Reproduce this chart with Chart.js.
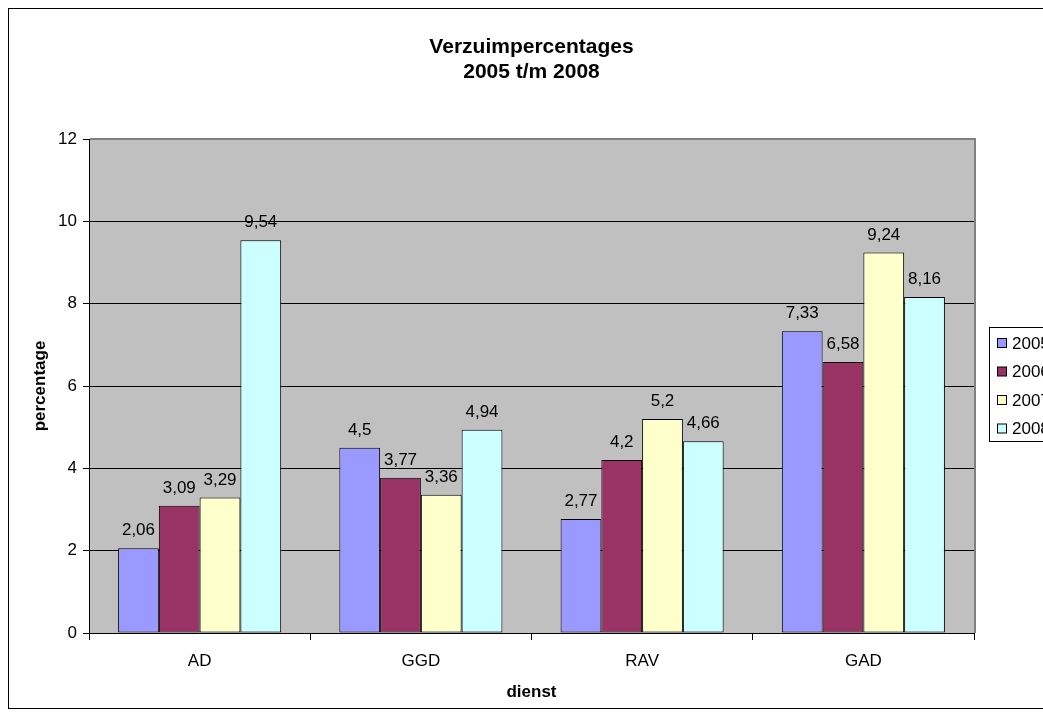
<!DOCTYPE html>
<html>
<head>
<meta charset="utf-8">
<script src="https://cdn.jsdelivr.net/npm/chart.js@4.4.0/dist/chart.umd.min.js"></script>
<style>
  html, body { margin: 0; padding: 0; background: #fff; }
  #wrap { width: 1043px; height: 715px; }
</style>
</head>
<body>
<div id="wrap"><canvas id="chart" width="1043" height="715"></canvas></div>
<script>
var categories = ['AD', 'GGD', 'RAV', 'GAD'];
var years = ['2005', '2006', '2007', '2008'];
var values2005 = [2.06, 4.5, 2.77, 7.33];
var values2006 = [3.09, 3.77, 4.2, 6.58];
var values2007 = [3.29, 3.36, 5.2, 9.24];
var values2008 = [9.54, 4.94, 4.66, 8.16];
var yTicks = [0, 2, 4, 6, 8, 10, 12];
var colors = ['#9999FF', '#993366', '#FFFFCC', '#CCFFFF'];
var titleLines = ['Verzuimpercentages', '2005 t/m 2008'];

var fontFam = '"Liberation Sans", Arial, sans-serif';

// achtergrond, rand en grijs plotvlak
var backgroundPlugin = {
	id: 'bg',
	beforeDraw: function(chart) {
		var ctx = chart.ctx;
		var a = chart.chartArea;
		ctx.save();
		ctx.fillStyle = '#fff';
		ctx.fillRect(0, 0, chart.width, chart.height);
		ctx.strokeStyle = '#000';
		ctx.lineWidth = 1;
		ctx.strokeRect(8.5, 8.5, 1100, 700);
		ctx.fillStyle = '#C0C0C0';
		ctx.fillRect(a.left, a.top, a.right - a.left, a.bottom - a.top);
		ctx.restore();
	},
	beforeDatasetsDraw: function(chart) {
		// grijze rand boven en rechts van het plotvlak
		var ctx = chart.ctx;
		var a = chart.chartArea;
		ctx.save();
		ctx.fillStyle = '#808080';
		ctx.fillRect(a.left + 1, a.top - 1, a.right - a.left + 1, 2);
		ctx.fillRect(a.right, a.top - 1, 2, a.bottom - a.top + 1);
		ctx.restore();
	}
};

// titel en legenda
var titleLegendPlugin = {
	id: 'titleLegend',
	afterDraw: function(chart) {
		var ctx = chart.ctx;
		var a = chart.chartArea;
		var cx = (a.left + a.right) / 2;
		ctx.save();
		ctx.fillStyle = '#000';
		ctx.font = 'bold 21px ' + fontFam;
		ctx.textAlign = 'center';
		ctx.textBaseline = 'middle';
		ctx.fillText(titleLines[0], cx, 47);
		ctx.fillText(titleLines[1], cx, 72);

		// legenda (loopt buiten beeld, zoals in het origineel)
		ctx.strokeStyle = '#000';
		ctx.lineWidth = 1;
		ctx.strokeRect(989.5, 327.5, 100, 114);
		ctx.font = '17px ' + fontFam;
		ctx.textAlign = 'left';
		for (var i = 0; i < years.length; i++) {
			var y = 343 + i * 28.5;
			ctx.fillStyle = colors[i];
			ctx.fillRect(997.5, y - 4.5, 9, 9);
			ctx.strokeRect(997.5, y - 4.5, 9, 9);
			ctx.fillStyle = '#000';
			ctx.fillText(years[i], 1012, y + 1);
		}
		ctx.restore();
	}
};

// waarden boven de staven
var labelPlugin = {
	id: 'barLabels',
	afterDatasetsDraw: function(chart) {
		var ctx = chart.ctx;
		ctx.save();
		ctx.fillStyle = '#000';
		ctx.font = '17px ' + fontFam;
		ctx.textAlign = 'center';
		ctx.textBaseline = 'bottom';
		chart.data.datasets.forEach(function(dataset, i) {
			var meta = chart.getDatasetMeta(i);
			meta.data.forEach(function(el, j) {
				var txt = String(dataset.data[j]).replace('.', ',');
				ctx.fillText(txt, el.x, el.y - 9);
			});
		});
		ctx.restore();
	}
};

var dataLists = [values2005, values2006, values2007, values2008];
var datasets = years.map(function(y, i) {
	return {
		label: y,
		data: dataLists[i],
		backgroundColor: colors[i],
		borderColor: '#000',
		borderWidth: 1,
		borderSkipped: false,
		categoryPercentage: 0.737,
		barPercentage: 1
	};
});

new Chart(document.getElementById('chart'), {
	type: 'bar',
	data: { labels: categories, datasets: datasets },
	options: {
		responsive: false,
		animation: false,
		layout: { padding: { left: 12, right: 69, top: 139, bottom: 10 } },
		plugins: {
			legend: { display: false },
			title: { display: false },
			tooltip: { enabled: false }
		},
		scales: {
			y: {
				min: 0,
				max: 12,
				afterBuildTicks: function(scale) {
					scale.ticks = yTicks.map(function(v) { return { value: v }; });
				},
				afterFit: function(scale) { scale.width = 77; },
				border: { display: true, color: '#000', width: 1 },
				grid: { color: '#000', lineWidth: 1, tickLength: 6, drawTicks: true },
				ticks: { color: '#000', font: { size: 17, family: fontFam }, padding: 6 },
				title: {
					display: true,
					text: 'percentage',
					color: '#000',
					font: { size: 17, weight: 'bold', family: fontFam },
					padding: { top: 18, bottom: 0 }
				}
			},
			x: {
				afterFit: function(scale) { scale.height = 72; },
				border: { display: true, color: '#000', width: 1 },
				grid: { offset: true, drawOnChartArea: false, drawTicks: true, tickLength: 7, color: '#000' },
				ticks: { color: '#000', font: { size: 17, family: fontFam }, padding: 11 },
				title: {
					display: true,
					text: 'dienst',
					color: '#000',
					font: { size: 17, weight: 'bold', family: fontFam },
					padding: { top: 0, bottom: 2 }
				}
			}
		}
	},
	plugins: [backgroundPlugin, labelPlugin, titleLegendPlugin]
});
</script>
</body>
</html>
